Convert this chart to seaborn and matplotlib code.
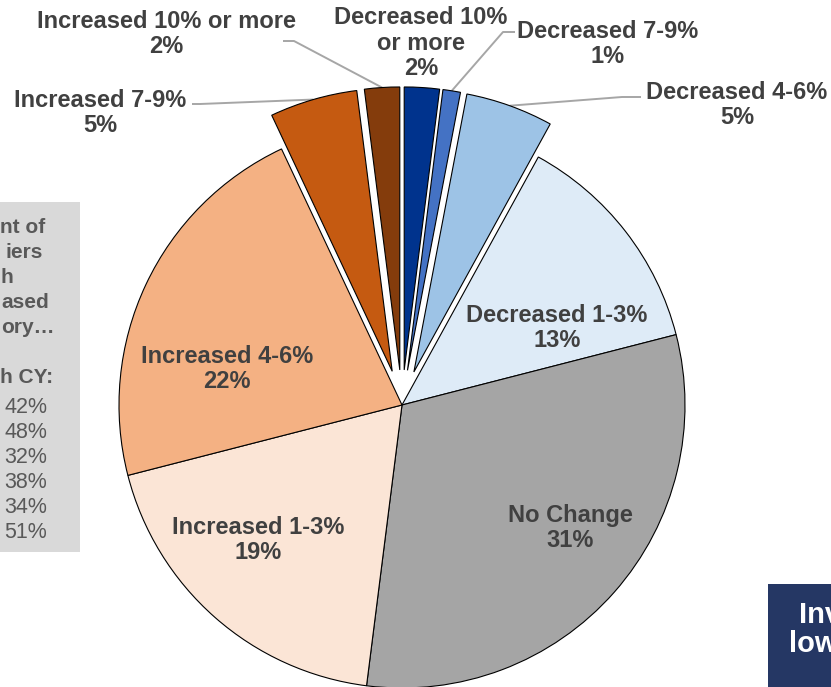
import numpy as np
import matplotlib
matplotlib.use("Agg")
import matplotlib.pyplot as plt
from matplotlib.patches import Rectangle
import seaborn as sns

# ---- data -------------------------------------------------------------
categories = [
    "Decreased 10%\nor more", "Decreased 7-9%", "Decreased 4-6%",
    "Decreased 1-3%", "No Change", "Increased 1-3%", "Increased 4-6%",
    "Increased 7-9%", "Increased 10% or more",
]
shares = [2, 1, 5, 13, 31, 19, 22, 5, 2]
slice_colors = ["#00338D", "#4472C4", "#9DC3E6", "#DEEBF7", "#A5A5A5",
                "#FBE5D6", "#F4B183", "#C55A11", "#843C0C"]
pulled_out = [True, True, True, False, False, False, False, True, True]

side_heading = ["nt of", "iers", "h", "ased", "ory\u2026", "", "h CY:"]
side_values = ["42%", "48%", "32%", "38%", "34%", "51%"]
note_lines = ["Inv", "low"]

# ---- figure setup -----------------------------------------------------
sns.set_theme(style="white")
plt.rcParams["font.family"] = ["Liberation Sans", "DejaVu Sans"]

W, H = 831, 687
CX, CY, R = 402, 405, 283          # pie centre / radius in pixels
fig = plt.figure(figsize=(W / 100, H / 100), dpi=100)
ax = fig.add_axes([0, 0, 1, 1])


def px(x, y):
    """pixel position (from top-left) -> data coordinates"""
    return (x - CX) / R, (CY - y) / R


EXPLODE = 0.124
explode = [EXPLODE if p else 0.0 for p in pulled_out]
palette = sns.color_palette(slice_colors)

ax.pie(shares, colors=palette, explode=explode, startangle=90,
       counterclock=False, radius=1.0,
       wedgeprops=dict(edgecolor="black", linewidth=0.8))
ax.set_xlim(-CX / R, (W - CX) / R)
ax.set_ylim(-(H - CY) / R, CY / R)
ax.set_aspect("auto")
ax.axis("off")

label_color = "#404040"
label_kw = dict(color=label_color, fontsize=17, fontweight="bold",
                ha="center", va="center", linespacing=1.15)

# label placement (pixels); outside labels get a leader line
label_pos = {
    "Decreased 10%\nor more": (421, 43),
    "Decreased 7-9%": (608, 44),
    "Decreased 4-6%": (737, 105),
    "Decreased 1-3%": (557, 328),
    "No Change": (570, 528),
    "Increased 1-3%": (258, 540),
    "Increased 4-6%": (227, 369),
    "Increased 7-9%": (100, 113),
    "Increased 10% or more": (166, 34),
}
leader_start = {
    "Decreased 7-9%": [(515, 32), (503, 32)],
    "Decreased 4-6%": [(641, 97), (622, 97)],
    "Increased 7-9%": [(192, 104), (200, 104)],
    "Increased 10% or more": [(283, 41), (294, 41)],
}

total = sum(shares)
cum = np.cumsum([0] + shares[:-1])
for name, v, c0, e in zip(categories, shares, cum, explode):
    lx, ly = px(*label_pos[name])
    ax.text(lx, ly, f"{name}\n{v}%", **label_kw)
    if name in leader_start:
        theta = np.deg2rad(360 * (c0 + v / 2) / total)
        tip = ((1 + e) * np.sin(theta), (1 + e) * np.cos(theta))
        pts = [px(*p) for p in leader_start[name]] + [tip]
        xs, ys = zip(*pts)
        ax.plot(xs, ys, color="#A6A6A6", linewidth=1.4,
                solid_capstyle="butt", zorder=0.5, clip_on=False)

# ---- grey side panel ----------------------------------------------------
x0, y0 = px(0, 552)
x1, y1 = px(80, 202)
ax.add_patch(Rectangle((x0, y0), x1 - x0, y1 - y0, facecolor="#D9D9D9",
                       edgecolor="none", zorder=0.2))
side_color = "#595959"
side_x = [0, 5, 0, 1, 1, 0, 0]
for i, (t, sx) in enumerate(zip(side_heading, side_x)):
    if t:
        tx, ty = px(sx, 233 + 25 * i)
        ax.text(tx, ty, t, color=side_color, fontsize=15,
                fontweight="bold", ha="left", va="baseline")
for i, t in enumerate(side_values):
    tx, ty = px(47, 413 + 25 * i)
    ax.text(tx, ty, t, color=side_color, fontsize=15.5,
            ha="right", va="baseline")

# ---- navy call-out box ------------------------------------------------
x0, y0 = px(768, H)
x1, y1 = px(W, 584)
ax.add_patch(Rectangle((x0, y0), x1 - x0, y1 - y0, facecolor="#253764",
                       edgecolor="none", zorder=0.2))
for t, (nx, ny) in zip(note_lines, [(799, 623), (789, 652)]):
    tx, ty = px(nx, ny)
    ax.text(tx, ty, t, color="white", fontsize=21, fontweight="bold",
            ha="left", va="baseline")

fig.savefig("out.png", dpi=100)
